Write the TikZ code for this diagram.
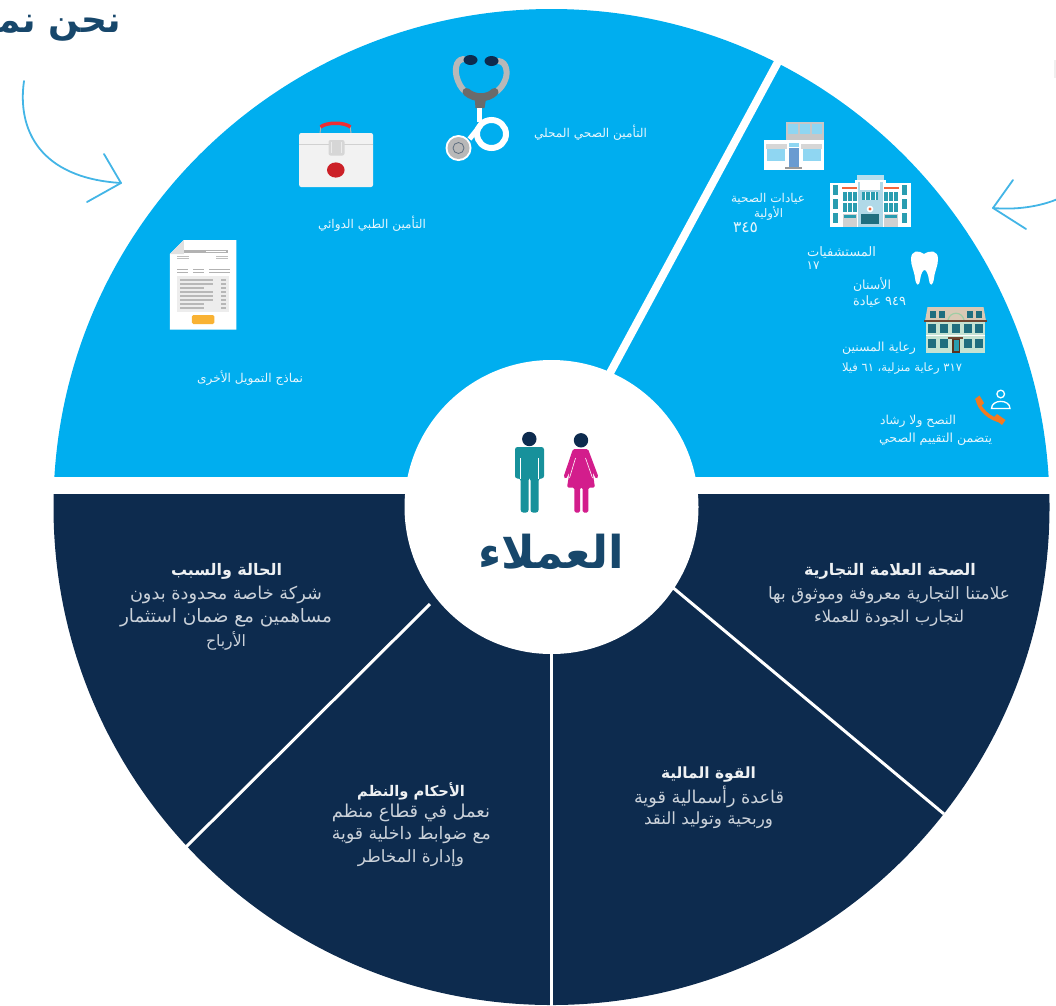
\documentclass[tikz,border=0pt]{standalone}
\usepackage{fontspec}
\usepackage{graphicx}
\TeXXeTstate=1
\newfontfamily\arabicfont[Script=Arabic]{DejaVu Sans}
\definecolor{skyc}{HTML}{00AEEF}
\definecolor{navyc}{HTML}{0D2B4E}
\definecolor{titlec}{HTML}{17476B}
\definecolor{arrowc}{HTML}{43B5E6}
\definecolor{smallc}{HTML}{E6F6FD}
\definecolor{bodyc}{HTML}{CBD2DA}
\definecolor{headc}{HTML}{EEF1F3}
\definecolor{winc}{HTML}{8FD6F2}
\definecolor{tealc}{HTML}{2A9DB0}
\definecolor{darkw}{HTML}{1F6E7F}
\definecolor{manc}{HTML}{17919B}
\definecolor{womanc}{HTML}{D31D8C}
\definecolor{kitred}{HTML}{CC2027}
\definecolor{handred}{HTML}{EE2D34}
\definecolor{btnc}{HTML}{F9B233}
\definecolor{doorc}{HTML}{6A9BD1}
\definecolor{towerc}{HTML}{B6DFEE}
\definecolor{hospc}{HTML}{B0D9E8}
\definecolor{roofr}{HTML}{F2653C}
\definecolor{roofb}{HTML}{D9C9B5}
\definecolor{domec}{HTML}{A0CDA5}
\definecolor{wallc}{HTML}{C5E3D3}
\definecolor{brownc}{HTML}{6E4632}
\definecolor{brownd}{HTML}{5A321E}
\definecolor{phonec}{HTML}{F37A20}
\definecolor{steelc}{HTML}{5F6F80}
\newcommand{\artx}[2]{\resizebox{#1pt}{!}{\arabicfont #2}}
\newcommand{\arbd}[2]{\resizebox{#1pt}{!}{\arabicfont\bfseries #2}}
\tikzset{
  small/.style={inner sep=0pt,text=smallc},
  bodyt/.style={inner sep=0pt,text=bodyc},
  headt/.style={inner sep=0pt,text=headc},
  arrowline/.style={draw=arrowc,line width=1.8pt,line cap=round,line join=round},
  sep/.style={draw=white,line width=3pt},
}
\begin{document}
\begin{tikzpicture}[x=1pt,y=-1pt]
\useasboundingbox (0,0) rectangle (1056,1005);
\clip (0,0) rectangle (1056,1005);
\coordinate (C) at (551.5,507);
% wheel
\begin{scope}\clip (0,0) rectangle (1056,476); \fill[skyc] (C) circle (498); \end{scope}
\begin{scope}\clip (0,494) rectangle (1056,1005); \fill[navyc] (C) circle (498); \end{scope}
\coordinate (a1) at (610,373); \coordinate (a2) at (779,60);
\draw[white,line width=8pt] (a1) -- (a2);
\coordinate (b1) at (551.5,640); \coordinate (b2) at (551.5,1010);
\coordinate (c1) at (430,604); \coordinate (c2) at (186,847);
\coordinate (d1) at (665,581); \coordinate (d2) at (944,814);
\draw[sep] (b1) -- (b2); \draw[sep] (c1) -- (c2); \draw[sep] (d1) -- (d2);
\fill[white] (C) circle (147);
% arrows
\draw[arrowline] (24,81) .. controls (17,130) and (40,178) .. (121,183);
\draw[arrowline] (104,154) -- (121,183) -- (87,202);
\draw[arrowline] (1060,198) .. controls (1040,207) and (1015,210) .. (993,208);
\draw[arrowline] (1013,180) -- (993,208) -- (1026,229);
\fill[black!6] (1054,60) rectangle (1056,78);
% title
\node[anchor=east,inner sep=0pt,text=titlec,font=\fontsize{36}{40}\selectfont\bfseries] (ttl) at (121,28) {\arabicfont\beginR نحن نمـ\endR};
% man
\fill[navyc] (529.3,439) circle (7.2);
\fill[navyc] (581,440.3) circle (7.2);
\fill[rounded corners=2.5pt,fill=manc] (515,447) -- (544,447) -- (544,478.5) -- (538.5,478.5) -- (538.5,512.5) -- (530.5,512.5) -- (530.5,478) -- (528.5,478) -- (528.5,512.5) -- (520.7,512.5) -- (520.7,478.5) -- (515,478.5) -- cycle;
\draw[white,line width=.6pt] (520.7,458) -- (520.7,479) (538.3,458) -- (538.3,479);
% woman
\fill[rounded corners=1.5pt,fill=womanc] (573,449) -- (588,449) -- (598.5,477) -- (596,479) -- (592.5,472) -- (595,487.5) -- (588.3,487.5) -- (588.3,512.5) -- (582.7,512.5) -- (582.7,487.5) -- (580,487.5) -- (580,512.5) -- (574.3,512.5) -- (574.3,487.5) -- (567,487.5) -- (569.5,472) -- (566,479) -- (563.5,477) -- cycle;
\draw[white,line width=.6pt] (575.5,458) -- (569.5,478) (585.5,458) -- (592.5,478);
% centre word
\node[inner sep=0pt,text=titlec] (hubt) at (551,552) {\resizebox{146pt}{!}{\arabicfont\bfseries\beginR العملاء\endR}};
% stethoscope
\begin{scope}[xshift=4.5pt]
\draw[line width=6pt,draw=black!28,line cap=round] (459,59) .. controls (450,60) and (451,72) .. (452,76) .. controls (454,84) and (457,88) .. (460,91);
\draw[line width=6pt,draw=black!28,line cap=round] (494,61) .. controls (503,62) and (503,74) .. (501,79) .. controls (499,85) and (496,88) .. (493,91);
\fill[navyc] (466,60) ellipse (7 and 5);
\fill[navyc] (487,61) ellipse (7 and 5);
\draw[line width=8pt,draw=black!58,line cap=round] (462,92) .. controls (470,99) and (483,99) .. (490,92);
\fill[black!58] (470,96) -- (482,96) -- (480,108) -- (471,108) -- cycle;
\draw[white,line width=5.5pt] (475,108) -- (475,122);
\draw[white,line width=6pt] (487,134) ellipse (14.5 and 14);
\draw[white,line width=5pt] (477,124) -- (465,139);
\fill[white] (454,148) circle (13);
\fill[black!28] (454,148) circle (11);
\draw[steelc,line width=.8pt] (454,148) circle (5.5);
\end{scope}
% medical kit
\begin{scope}[xshift=2.5pt]
\draw[black!30,line width=1pt] (317.5,133) -- (318.5,126) (348.5,133) -- (347.5,126);
\draw[line width=3.5pt,draw=handred] (318,127) .. controls (324,122) and (342,122) .. (348,127);
\fill[black!5,rounded corners=2pt] (296.7,133) rectangle (370.5,187);
\draw[black!18,line width=1pt] (296.7,144.5) -- (370.5,144.5);
\fill[black!16,rounded corners=2pt] (326,140) rectangle (342,155.5);
\draw[black!8,line width=.8pt] (329,142) -- (329,153) (339,142) -- (339,153);
\fill[kitred] (333.3,170) ellipse (8.8 and 7.6);
\end{scope}
% document
\begin{scope}[xshift=.8pt]
\fill[white] (183,240) -- (235.5,240) -- (235.5,329.5) -- (169,329.5) -- (169,254) -- cycle;
\fill[black!12] (183,240) -- (169,254) -- (183,254) -- cycle;
\fill[black!30] (183,250) rectangle (227,253);
\fill[white] (205,250.8) rectangle (225,252.2);
\foreach \yy in {256,257.5}{\fill[black!25] (176,\yy) rectangle (188,\yy+.8); \fill[black!25] (215,\yy) rectangle (227,\yy+.8);}
\foreach \yy in {268.5,272}{\foreach \xx in {176,192,208,218}{\fill[black!30] (\xx,\yy) rectangle (\xx+11,\yy+1);}}
\fill[black!7] (176,276) rectangle (228,312);
\foreach \yy in {279,283,287,291,295,299,303,307}{\fill[black!28] (179,\yy) rectangle (203,\yy+1.6); \fill[black!28] (220,\yy) rectangle (225,\yy+1.6);}
\foreach \yy in {279,283,291,295,299}{\fill[black!28] (196,\yy) rectangle (212,\yy+1.6);}
\fill[btnc,rounded corners=1.5pt] (191,315) rectangle (213.5,324);
\end{scope}
% clinic
\fill[black!22] (786,122) rectangle (824,141);
\foreach \xx in {788,800,812}{\fill[winc] (\xx,124) rectangle (\xx+9.5,134);}
\fill[white] (764,140) rectangle (824,170);
\fill[black!16] (766,144) rectangle (787,149);
\fill[black!16] (801,144) rectangle (822,149);
\fill[winc] (767,149) rectangle (785,161);
\fill[winc] (803,149) rectangle (821,161);
\fill[winc] (789,143) rectangle (799,147);
\fill[doorc] (789,148) rectangle (799,167);
\fill[black!40] (785,167) rectangle (802,169);
% hospital
\fill[white] (830,183) rectangle (911,227);
\fill[towerc] (857,175) rectangle (884,186);
\fill[white] (855,180) rectangle (886,227);
\fill[hospc] (858,182) rectangle (883,227);
\fill[roofr] (842,186.5) rectangle (857,189);
\fill[roofr] (884,186.5) rectangle (899,189);
\foreach \xx in {833,902}{\foreach \yy in {185,199,213}{\fill[tealc] (\xx,\yy) rectangle (\xx+5,\yy+10);}}
\foreach \xx in {843,884}{\foreach \yy in {192,203}{\fill[tealc] (\xx,\yy) rectangle (\xx+14,\yy+8.5);\draw[white,line width=.6pt] (\xx+4.7,\yy) -- (\xx+4.7,\yy+8.5) (\xx+9.4,\yy) -- (\xx+9.4,\yy+8.5);}
  \fill[black!18] (\xx,214) rectangle (\xx+14,227);\fill[tealc] (\xx+1,215) rectangle (\xx+13,218);}
\fill[white] (860,182) rectangle (880,190);
\fill[tealc] (862,192) rectangle (878,200);
\draw[white,line width=.6pt] (865,192) -- (865,200) (870,192) -- (870,200) (875,192) -- (875,200);
\fill[white] (870,209) circle (3.3); \fill[roofr] (870,209) circle (1.6);
\fill[darkw] (861,214) rectangle (879,224);
% tooth
\fill[white] (924,254) .. controls (919,250) and (911,250) .. (911,259) .. controls (911,266) and (914,270) .. (915,278) .. controls (916,286) and (919,287) .. (920,280) .. controls (921,273) and (923,270) .. (924.5,270) .. controls (926,270) and (928,273) .. (929,280) .. controls (930,287) and (933,286) .. (934,278) .. controls (935,270) and (938,266) .. (938,259) .. controls (938,250) and (930,250) .. (924,254) -- cycle;
% nursing home
\fill[roofb] (927.5,307) -- (983.5,307) -- (986,321) -- (925,321) -- cycle;
\draw[domec,line width=1.2pt] (948,320) .. controls (950,311) and (962,311) .. (964,320);
\fill[wallc] (926,322) rectangle (985,353);
\fill[brownc] (924,320) rectangle (987,322);
\draw[white,line width=.8pt] (926,335) -- (985,335);
\foreach \xx in {932,944,956,968,979}{\fill[darkw] (\xx-3.6,323.5) rectangle (\xx+3.6,333);}
\foreach \xx in {932,944,968,979}{\fill[darkw] (\xx-3.6,338.5) rectangle (\xx+3.6,348);}
\foreach \xx in {933,942,970,979}{\fill[darkw] (\xx-2.6,311) rectangle (\xx+2.6,318);}
\fill[brownc] (948,337) rectangle (963,339);
\fill[brownd] (952,339) rectangle (960,352.5);
\fill[tealc] (953.5,340) rectangle (958.5,351);
% phone and person
\draw[phonec,line width=3.5pt,line cap=round] (977.5,399) .. controls (978,408) and (990,420) .. (1002,421);
\fill[phonec] (975,399) -- (979.5,395.5) -- (984,403) -- (980,407) -- cycle;
\fill[phonec] (993,418) -- (997,414) -- (1005.5,420) -- (1002,425) -- cycle;
\draw[white,line width=1.3pt] (1000.7,394) circle (3.8);
\draw[white,line width=1.3pt] (991.5,408.5) .. controls (991.5,399) and (1010,399) .. (1010,408.5) -- cycle;
% top panel labels
\node[small] (t1) at (590.5,133) {\artx{113}{\beginR التأمين الصحي المحلي\endR}};
\node[small] (t2) at (372,224) {\artx{108}{\beginR التأمين الطبي الدوائي\endR}};
\node[small] (t3) at (250,378) {\artx{106}{\beginR نماذج التمويل الأخرى\endR}};
\node[small] (t4) at (768,199) {\artx{74}{\beginR عيادات الصحية\endR}};
\node[small] (t5) at (768.5,213) {\artx{29}{\beginR الأولية\endR}};
\node[small] (t6) at (745.5,228) {\artx{25}{\beginR\beginL ٣٤٥\endL\endR}};
\node[small] (t7) at (841.5,252) {\artx{69}{\beginR المستشفيات\endR}};
\node[small] (t8) at (813,266) {\artx{13}{\beginR\beginL ١٧\endL\endR}};
\node[small] (t9) at (872,285) {\artx{38}{\beginR الأسنان\endR}};
\node[small] (t10) at (879.5,302) {\artx{53}{\beginR\beginL ٩٤٩\endL{} عيادة\endR}};
\node[small] (t11) at (879,348) {\artx{74}{\beginR رعاية المسنين\endR}};
\node[small] (t12) at (902,369) {\artx{120}{\beginR\beginL ٣١٧\endL{} رعاية منزلية، \beginL ٦١\endL{} فيلا\endR}};
\node[small] (t13) at (918,421) {\artx{76}{\beginR النصح ولا رشاد\endR}};
\node[small] (t14) at (935.5,439) {\artx{113}{\beginR يتضمن التقييم الصحي\endR}};
% bottom panel labels
\node[headt] (r0) at (890,571) {\arbd{172}{\beginR الصحة العلامة التجارية\endR}};
\node[bodyt] (r1) at (889,595.5) {\artx{242}{\beginR علامتنا التجارية معروفة وموثوق بها\endR}};
\node[bodyt] (r2) at (889,618) {\artx{150}{\beginR لتجارب الجودة للعملاء\endR}};
\node[headt] (m0) at (708.5,775) {\arbd{95}{\beginR القوة المالية\endR}};
\node[bodyt] (m1) at (709,797) {\artx{150}{\beginR قاعدة رأسمالية قوية\endR}};
\node[bodyt] (m2) at (708.5,820) {\artx{129}{\beginR وربحية وتوليد النقد\endR}};
\node[headt] (k0) at (411,791) {\arbd{108}{\beginR الأحكام والنظم\endR}};
\node[bodyt] (k1) at (411,813) {\artx{158}{\beginR نعمل في قطاع منظم\endR}};
\node[bodyt] (k2) at (411.5,835) {\artx{159}{\beginR مع ضوابط داخلية قوية\endR}};
\node[bodyt] (k3) at (411,858) {\artx{106}{\beginR وإدارة المخاطر\endR}};
\node[headt] (l0) at (226.5,571) {\arbd{111}{\beginR الحالة والسبب\endR}};
\node[bodyt] (l1) at (226,595) {\artx{192}{\beginR شركة خاصة محدودة بدون\endR}};
\node[bodyt] (l2) at (226,618) {\artx{212}{\beginR مساهمين مع ضمان استثمار\endR}};
\node[bodyt] (l3) at (226,641) {\artx{40}{\beginR الأرباح\endR}};
\end{tikzpicture}
\end{document}
